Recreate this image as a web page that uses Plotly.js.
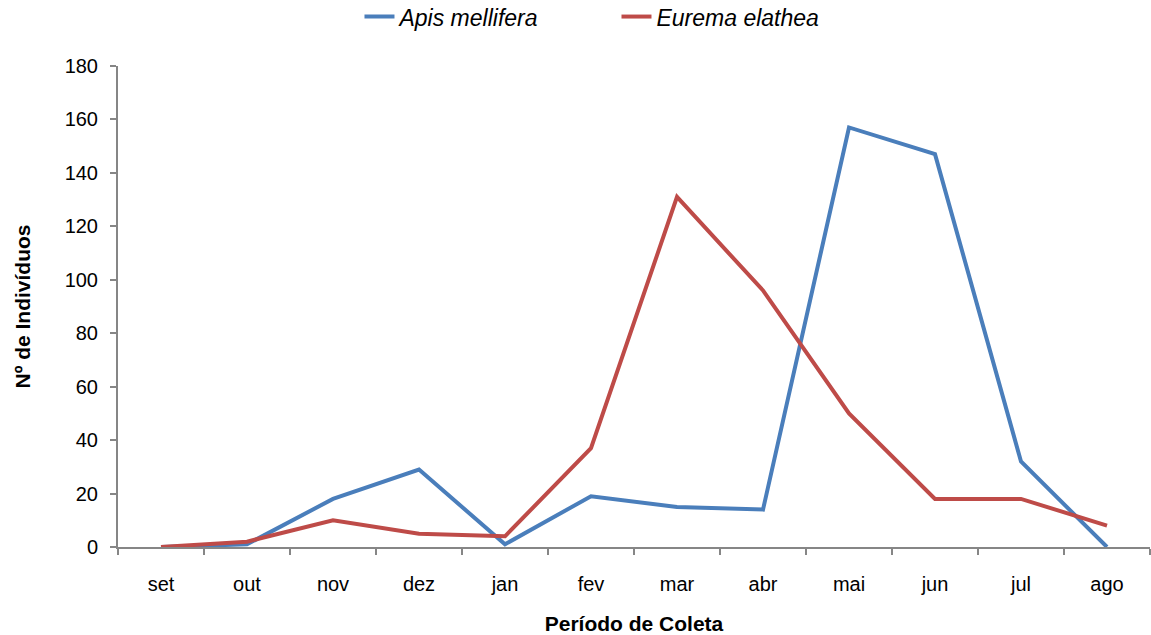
<!DOCTYPE html>
<html>
<head>
<meta charset="utf-8">
<script src="https://cdn.plot.ly/plotly-3.0.1.min.js"></script>
<style>html,body{margin:0;padding:0;background:#fff;}#chart{width:1151px;height:635px;}</style>
</head>
<body>
<div id="chart"></div>
<script>
var months = ["set","out","nov","dez","jan","fev","mar","abr","mai","jun","jul","ago"];
var apisMellifera = [0, 1, 18, 29, 1, 19, 15, 14, 157, 147, 32, 0];
var euremaElathea = [0, 2, 10, 5, 4, 37, 131, 96, 50, 18, 18, 8];
var yTicks = [0, 20, 40, 60, 80, 100, 120, 140, 160, 180];

var traces = [
  {x: months, y: apisMellifera, name: "Apis mellifera", type: "scatter", mode: "lines",
   line: {color: "#4A7EBB", width: 4}},
  {x: months, y: euremaElathea, name: "Eurema elathea", type: "scatter", mode: "lines",
   line: {color: "#BE4B48", width: 4}}
];

var layout = {
  width: 1151, height: 635,
  margin: {l: 118, r: 1, t: 66, b: 88},
  paper_bgcolor: "#fff", plot_bgcolor: "#fff",
  font: {family: "Liberation Sans, Arial, sans-serif", size: 19, color: "#000"},
  showlegend: true,
  legend: {orientation: "h", x: 0.234, xref: "paper", xanchor: "left", y: 0.94, yref: "container", yanchor: "bottom",
           font: {size: 23, style: "italic"}, entrywidth: 212, entrywidthmode: "pixels"},
  xaxis: {
    type: "category", range: [-0.5, 11.5], showgrid: false, zeroline: false,
    showline: true, linecolor: "#868686", linewidth: 2,
    ticks: "outside", tickson: "boundaries", ticklen: 6, tickcolor: "#868686", tickwidth: 2,
    tickfont: {size: 20}, ticklabelstandoff: 18,
    title: {text: "<b>Período de Coleta</b>", font: {size: 21}, standoff: 28}
  },
  yaxis: {
    range: [0, 180], tickvals: yTicks, showgrid: false, zeroline: false,
    showline: true, linecolor: "#868686", linewidth: 2,
    ticks: "outside", ticklen: 6, tickcolor: "#868686", tickwidth: 2,
    tickfont: {size: 20}, ticklabelstandoff: 8,
    title: {text: "<b>Nº de Indivíduos</b>", font: {size: 21}, standoff: 28}
  }
};
Plotly.newPlot("chart", traces, layout, {staticPlot: true});
</script>
</body>
</html>
